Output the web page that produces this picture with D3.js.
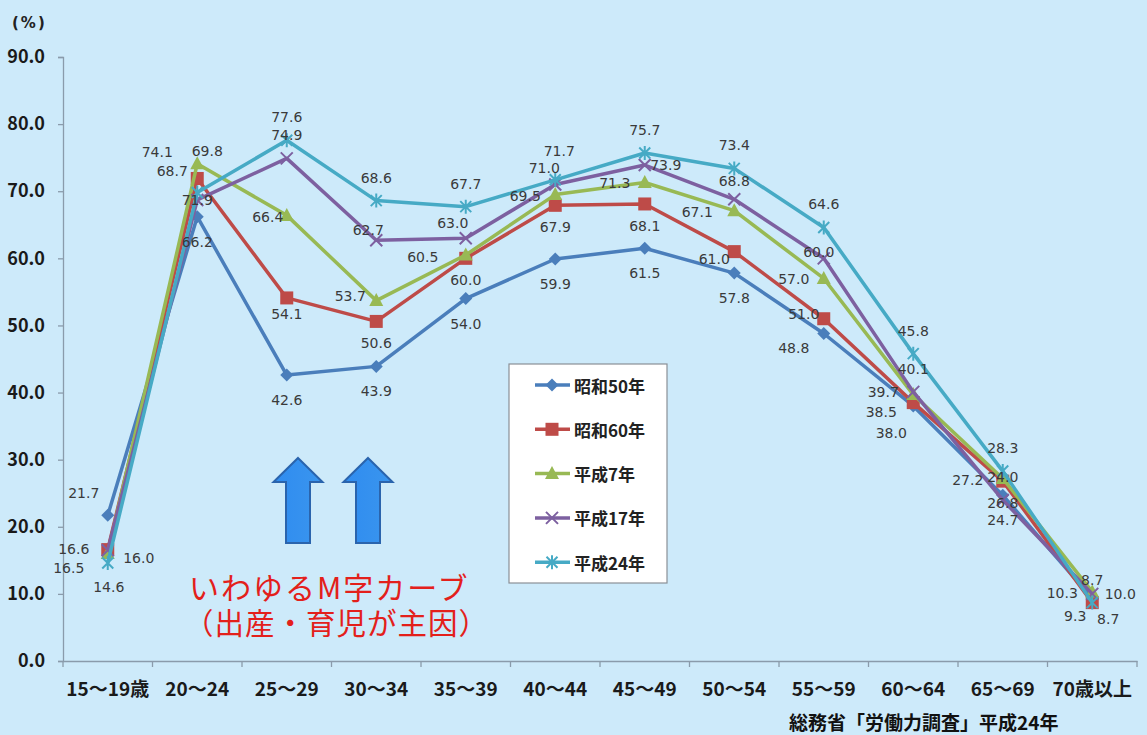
<!DOCTYPE html>
<html lang="ja">
<head>
<meta charset="utf-8">
<title>女性の年齢階級別労働力率の推移</title>
<script src="https://cdn.jsdelivr.net/npm/d3@7"></script>
<style>
  html, body { margin: 0; padding: 0; background: #cdeafa; }
  svg { display: block; }
</style>
</head>
<body>
<svg id="chart" width="1147" height="735"></svg>
<script>
// 年齢階級
const categories = ["15～19歳", "20～24", "25～29", "30～34", "35～39", "40～44",
                    "45～49", "50～54", "55～59", "60～64", "65～69", "70歳以上"];

// 系列名
const seriesNames = ["昭和50年", "昭和60年", "平成7年", "平成17年", "平成24年"];

// 労働力率（%）
const showa50  = [21.7, 66.2, 42.6, 43.9, 54.0, 59.9, 61.5, 57.8, 48.8, 38.0, 24.7, 9.3];
const showa60  = [16.6, 71.9, 54.1, 50.6, 60.0, 67.9, 68.1, 61.0, 51.0, 38.5, 26.8, 8.7];
const heisei7  = [16.0, 74.1, 66.4, 53.7, 60.5, 69.5, 71.3, 67.1, 57.0, 39.7, 27.2, 10.3];
const heisei17 = [16.5, 68.7, 74.9, 62.7, 63.0, 71.0, 73.9, 68.8, 60.0, 40.1, 24.0, 10.0];
const heisei24 = [14.6, 69.8, 77.6, 68.6, 67.7, 71.7, 75.7, 73.4, 64.6, 45.8, 28.3, 8.7];

// 目盛り
const yTicks = [0, 10, 20, 30, 40, 50, 60, 70, 80, 90];

const seriesValues = [showa50, showa60, heisei7, heisei17, heisei24];

// 表示設定
const colors  = ["#4a7ebb", "#be4b48", "#98b954", "#7d60a0", "#46aac5"];
const markers = ["diamond", "square", "triangle", "cross", "star"];

// データラベルの既定位置（点からのずれ）
const labelDefault = [[0, 25], [0, 22], [-30, 1], [0, -18], [0, -23]];
// 重なりを避けるための個別位置
const labelNudge = {
  "0-0": [-24, -22], "0-8": [-30, 15], "0-9": [-22, 27], "0-11": [-17, 17],
  "1-0": [-34, -1], "1-2": [0, 16], "1-7": [-20, 7], "1-8": [-20, -5], "1-9": [-32, 9], "1-11": [16, 16],
  "2-0": [31, 4], "2-1": [-40, -12], "2-2": [-19, 2], "2-3": [-26, -5], "2-4": [-43, 2], "2-7": [-37, 1],
  "2-9": [-30, -3], "2-10": [-35, 2],
  "3-0": [-39, 18], "3-1": [-25, -29], "3-2": [0, -23], "3-3": [-8, -10], "3-4": [-13, -15], "3-5": [-11, -17],
  "3-6": [21, 0], "3-8": [-5, -6], "3-9": [0, -23], "3-10": [0, -23], "3-11": [28, 0],
  "4-0": [1, 24], "4-1": [10, -42], "4-5": [4, -29]
};

const svg = d3.select("#chart");
const W = 1147, H = 735;
const plot = { left: 63, right: 1137, top: 57, bottom: 661 };

svg.append("rect").attr("width", W).attr("height", H).attr("fill", "#cdeafa");

const x = d3.scaleBand().domain(categories).range([plot.left, plot.right]);
const y = d3.scaleLinear().domain([0, 90]).range([plot.bottom, plot.top]);
const cx = c => x(c) + x.bandwidth() / 2;

const axisColor = "#8a9bab";
const jp = "'Noto Sans CJK JP', 'Noto Sans', sans-serif";
const num = "'DejaVu Sans', Verdana, sans-serif";

// 縦軸
const yAxis = svg.append("g")
  .attr("transform", `translate(${plot.left},0)`)
  .call(d3.axisLeft(y).tickValues(yTicks).tickFormat(d3.format(".1f")).tickSize(5).tickPadding(13));
yAxis.select(".domain").attr("stroke", axisColor).attr("stroke-width", 1.3);
yAxis.selectAll(".tick line").attr("stroke", axisColor).attr("stroke-width", 1.3);
yAxis.selectAll(".tick text")
  .attr("font-family", jp).attr("font-weight", "bold").attr("font-size", 18)
  .attr("fill", "#1a1a1a");

// 横軸
const xAxis = svg.append("g")
  .attr("transform", `translate(0,${plot.bottom})`)
  .call(d3.axisBottom(x).tickSize(0).tickPadding(22));
xAxis.select(".domain").attr("stroke", axisColor).attr("stroke-width", 1.3);
xAxis.selectAll(".tick text")
  .attr("font-family", jp).attr("font-weight", "bold").attr("font-size", 19)
  .attr("fill", "#1a1a1a");
// 区切りの目盛り線
xAxis.selectAll("line.sep")
  .data(categories.concat([null]))
  .enter().append("line")
  .attr("class", "sep")
  .attr("x1", (d, i) => plot.left + i * x.bandwidth())
  .attr("x2", (d, i) => plot.left + i * x.bandwidth())
  .attr("y1", 0).attr("y2", 6)
  .attr("stroke", axisColor).attr("stroke-width", 1.3);

// 単位
svg.append("text")
  .attr("x", 12).attr("y", 28)
  .attr("font-family", num).attr("font-size", 15).attr("font-weight", "bold")
  .attr("fill", "#222").attr("letter-spacing", 2)
  .text("(%)");

// 注記：矢印
function upArrow(g, xc) {
  const tipY = 458, headY = 482, baseY = 543, hw = 24.5, sw = 12;
  const p = d3.path();
  p.moveTo(xc, tipY);
  p.lineTo(xc + hw, headY);
  p.lineTo(xc + sw, headY);
  p.lineTo(xc + sw, baseY);
  p.lineTo(xc - sw, baseY);
  p.lineTo(xc - sw, headY);
  p.lineTo(xc - hw, headY);
  p.closePath();
  g.append("path").attr("d", p.toString())
    .attr("fill", "url(#arrowFill)").attr("stroke", "#2a64ad").attr("stroke-width", 2)
    .attr("stroke-linejoin", "miter");
}
const defs = svg.append("defs");
const grad = defs.append("linearGradient").attr("id", "arrowFill")
  .attr("x1", 0).attr("x2", 1).attr("y1", 0).attr("y2", 0);
grad.append("stop").attr("offset", "0%").attr("stop-color", "#2f8cf0");
grad.append("stop").attr("offset", "100%").attr("stop-color", "#3a95ee");
const notes = svg.append("g");
upArrow(notes, 298);
upArrow(notes, 368);

// 注記：文字（2行）
const note = notes.append("text")
  .attr("font-family", jp).attr("fill", "#e3201b");
note.append("tspan")
  .attr("x", 189).attr("y", 599)
  .attr("font-size", 30).attr("letter-spacing", 2)
  .text("いわゆるM字カーブ");
note.append("tspan")
  .attr("x", 184).attr("y", 634)
  .attr("font-size", 29.5).attr("letter-spacing", 1)
  .text("（出産・育児が主因）");

// 出典
svg.append("text")
  .attr("x", 789).attr("y", 730)
  .attr("font-family", jp).attr("font-weight", "bold").attr("font-size", 19)
  .attr("fill", "#111")
  .text("総務省「労働力調査」平成24年");

// マーカー描画
function drawMarker(g, type, color) {
  if (type === "diamond") {
    g.append("path").attr("d", "M0,-6.5L6.5,0L0,6.5L-6.5,0Z").attr("fill", color);
  } else if (type === "square") {
    g.append("rect").attr("x", -6.5).attr("y", -6.5).attr("width", 13).attr("height", 13).attr("fill", color);
  } else if (type === "triangle") {
    g.append("path").attr("d", "M0,-7.5L7,5.5L-7,5.5Z").attr("fill", color);
  } else if (type === "cross") {
    g.append("path").attr("d", "M-6,-6L6,6M6,-6L-6,6")
      .attr("stroke", color).attr("stroke-width", 2).attr("fill", "none");
  } else if (type === "star") {
    g.append("path").attr("d", "M-5.5,-5.5L5.5,5.5M5.5,-5.5L-5.5,5.5M0,-7L0,7")
      .attr("stroke", color).attr("stroke-width", 2).attr("fill", "none");
  }
}

// 折れ線
const line = d3.line()
  .x((d, i) => cx(categories[i]))
  .y(d => y(d));

const seriesG = svg.append("g");
seriesValues.forEach((vals, s) => {
  const g = seriesG.append("g");
  g.append("path")
    .datum(vals)
    .attr("d", line)
    .attr("fill", "none")
    .attr("stroke", colors[s])
    .attr("stroke-width", 3.5)
    .attr("stroke-linejoin", "round");
  g.selectAll("g.pt")
    .data(vals)
    .enter().append("g")
    .attr("class", "pt")
    .attr("transform", (d, i) => `translate(${cx(categories[i])},${y(d)})`)
    .each(function () { drawMarker(d3.select(this), markers[s], colors[s]); });
});

// データラベル
const labelG = svg.append("g");
seriesValues.forEach((vals, s) => {
  labelG.selectAll(null)
    .data(vals)
    .enter().append("text")
    .attr("x", (d, i) => cx(categories[i]) + (labelNudge[s + "-" + i] || labelDefault[s])[0])
    .attr("y", (d, i) => y(d) + (labelNudge[s + "-" + i] || labelDefault[s])[1])
    .attr("text-anchor", "middle")
    .attr("dominant-baseline", "central")
    .attr("font-family", num).attr("font-size", 14)
    .attr("fill", "#3a3a3a")
    .text(d => d3.format(".1f")(d));
});

// 凡例
const legend = svg.append("g");
legend.append("rect")
  .attr("x", 509).attr("y", 364).attr("width", 158).attr("height", 219)
  .attr("fill", "#ffffff").attr("stroke", "#8a8f96").attr("stroke-width", 1.2);
seriesNames.forEach((name, s) => {
  const ly = 385 + s * 44.3;
  const item = legend.append("g").attr("transform", `translate(0,${ly})`);
  item.append("line").attr("x1", 535).attr("x2", 570).attr("y1", 0).attr("y2", 0)
    .attr("stroke", colors[s]).attr("stroke-width", 3.5);
  drawMarker(item.append("g").attr("transform", "translate(552,0)"), markers[s], colors[s]);
  item.append("text")
    .attr("x", 574).attr("y", 0)
    .attr("dominant-baseline", "central")
    .attr("font-family", jp).attr("font-weight", "bold").attr("font-size", 17)
    .attr("fill", "#222")
    .text(name);
});
</script>
</body>
</html>
